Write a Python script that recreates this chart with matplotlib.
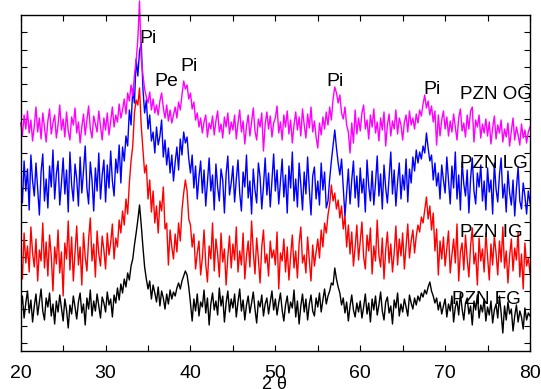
import numpy as np
import matplotlib
matplotlib.use("Agg")
import matplotlib.pyplot as plt

plt.rcParams['font.family'] = ['Liberation Sans', 'DejaVu Sans']

# 2theta grid, 0.2 deg step
two_theta = np.round(np.arange(20.0, 80.01, 0.2), 1)

# intensities (arb. units, offset per sample), 5 deg per row
pzn_og = [
    228, 215, 236, 222, 240, 218, 231, 210, 225, 244, 219, 233, 212, 238, 224, 209, 230, 242, 217, 228, 236, 213, 226, 246, 221,
    232, 214, 239, 220, 211, 234, 226, 243, 218, 229, 208, 224, 237, 216, 231, 245, 222, 213, 235, 227, 219, 240, 225, 211, 233,
    221, 238, 216, 230, 244, 224, 236, 229, 247, 233, 241, 252, 237, 258, 250, 266, 255, 276, 290, 312, 350, 292, 276, 262, 254,
    248, 259, 241, 252, 238, 246, 236, 250, 258, 243, 233, 246, 230, 241, 228, 236, 244, 233, 249, 241, 256, 270, 262, 266, 252,
    258, 242, 249, 231, 238, 224, 233, 218, 229, 236, 214, 228, 222, 235, 216, 230, 240, 219, 227, 213, 234, 224, 238, 217, 229,
    221, 236, 212, 228, 241, 219, 230, 207, 225, 236, 215, 229, 243, 220, 211, 232, 224, 238, 200, 227, 239, 222, 235, 214, 228,
    233, 245, 218, 229, 211, 236, 224, 240, 217, 231, 208, 226, 239, 221, 234, 215, 242, 226, 213, 237, 223, 244, 219, 230, 214,
    203, 228, 216, 234, 222, 239, 226, 244, 231, 252, 264, 258, 248, 256, 238, 232, 244, 226, 219, 198, 228, 208, 241, 217, 233,
    220, 238, 246, 222, 231, 212, 236, 224, 242, 218, 229, 210, 233, 221, 239, 205, 226, 237, 215, 230, 222, 241, 217, 233, 226,
    211, 229, 236, 219, 240, 226, 233, 222, 237, 228, 241, 235, 247, 256, 243, 250, 236, 245, 229, 240, 206, 236, 215, 231, 240,
    222, 234, 215, 230, 219, 237, 224, 211, 233, 242, 220, 228, 214, 236, 222, 240, 244, 209, 231, 224, 236, 213, 227, 218, 232,
    215, 229, 207, 223, 235, 212, 226, 218, 231, 209, 222, 214, 228, 205, 220, 233, 211, 224, 216, 206, 227, 213, 221, 208, 219,
    224]

pzn_lg = [
    175, 148, 190, 160, 182, 141, 196, 170, 155, 188, 162, 136, 179, 197, 150, 172, 143, 185, 164, 201, 152, 177, 190, 146, 168,
    193, 157, 181, 139, 199, 166, 150, 187, 172, 145, 194, 158, 180, 205, 163, 147, 189, 171, 140, 183, 160, 198, 152, 176, 191,
    149, 186, 163, 200, 170, 155, 192, 178, 206, 168, 204, 190, 215, 205, 241, 226, 262, 248, 292, 275, 300, 308, 262, 238, 251,
    222, 236, 210, 219, 198, 224, 206, 215, 231, 194, 211, 186, 203, 178, 196, 170, 189, 204, 181, 212, 196, 219, 208, 214, 192,
    178, 196, 163, 185, 152, 174, 190, 158, 181, 145, 169, 193, 160, 176, 141, 187, 164, 150, 182, 171, 138, 177, 195, 156, 168,
    185, 149, 172, 191, 158, 140, 179, 164, 196, 153, 170, 137, 182, 161, 148, 188, 174, 142, 165, 193, 156, 178, 144, 170, 197,
    160, 181, 147, 169, 192, 154, 176, 138, 185, 163, 199, 150, 172, 144, 188, 166, 141, 179, 157, 194, 162, 136, 175, 184, 152,
    170, 146, 188, 161, 179, 143, 150, 172, 190, 206, 221, 203, 188, 176, 192, 164, 135, 158, 182, 147, 171, 190, 153, 175, 144,
    183, 158, 172, 139, 191, 165, 150, 180, 146, 168, 195, 155, 177, 142, 186, 163, 148, 174, 199, 157, 181, 145, 169, 188, 152,
    176, 161, 192, 149, 182, 168, 194, 180, 201, 188, 199, 192, 205, 198, 218, 203, 190, 196, 171, 188, 165, 178, 152, 186, 171,
    158, 194, 170, 147, 185, 163, 199, 152, 176, 141, 189, 167, 155, 181, 138, 172, 193, 160, 147, 178, 164, 186, 150, 170, 141,
    183, 159, 171, 137, 188, 162, 149, 176, 193, 153, 167, 139, 180, 158, 146, 171, 135, 163, 184, 150, 142, 168, 155, 137, 160,
    148]

pzn_ig = [
    96, 72, 118, 88, 105, 79, 124, 98, 84, 112, 70, 101, 90, 128, 83, 109, 75, 116, 95, 60, 104, 87, 121, 78, 99,
    55, 108, 92, 130, 81, 114, 70, 99, 125, 86, 104, 66, 118, 94, 80, 112, 133, 90, 107, 74, 120, 97, 85, 115, 101,
    82, 118, 96, 108, 127, 92, 113, 104, 131, 118, 140, 126, 152, 137, 168, 190, 205, 238, 251, 246, 263, 225, 201, 178, 186,
    152, 171, 139, 160, 128, 145, 118, 150, 140, 164, 122, 128, 86, 121, 104, 92, 117, 99, 128, 110, 141, 158, 171, 160, 132,
    126, 104, 117, 82, 98, 110, 76, 93, 121, 87, 69, 105, 92, 128, 80, 112, 97, 74, 118, 89, 102, 66, 94, 115, 83,
    107, 91, 124, 79, 100, 86, 118, 72, 95, 110, 84, 130, 99, 77, 113, 92, 68, 104, 121, 88, 97, 75, 110, 93, 101,
    86, 119, 62, 98, 90, 112, 79, 104, 71, 95, 116, 83, 100, 73, 108, 124, 88, 96, 78, 114, 91, 70, 106, 85, 99,
    112, 93, 121, 104, 128, 118, 136, 147, 166, 150, 158, 142, 151, 133, 145, 122, 135, 104, 126, 97, 119, 85, 104, 126, 91,
    110, 129, 94, 82, 116, 100, 123, 77, 105, 90, 131, 96, 84, 113, 72, 101, 119, 88, 107, 79, 98, 125, 86, 112, 95,
    118, 82, 104, 127, 93, 110, 121, 98, 115, 126, 119, 134, 128, 141, 154, 132, 145, 121, 138, 100, 122, 76, 110, 92, 114,
    85, 103, 120, 78, 96, 112, 88, 127, 70, 99, 108, 81, 116, 92, 74, 105, 123, 87, 98, 66, 113, 90, 102, 79, 118,
    94, 71, 107, 86, 115, 98, 76, 110, 89, 124, 83, 100, 68, 95, 112, 80, 103, 91, 119, 74, 97, 62, 108, 85, 93,
    78]

pzn_fg = [
    42, 55, 33, 48, 60, 38, 51, 29, 45, 57, 36, 49, 62, 40, 31, 53, 44, 58, 35, 47, 27, 50, 39, 56, 43,
    30, 52, 41, 23, 46, 37, 55, 44, 32, 49, 58, 38, 47, 26, 53, 42, 61, 35, 50, 40, 57, 45, 33, 54, 48,
    39, 59, 46, 52, 34, 56, 48, 63, 51, 67, 58, 72, 64, 78, 71, 85, 92, 106, 118, 131, 146, 126, 104, 84, 72,
    62, 70, 52, 66, 58, 49, 64, 45, 60, 53, 42, 57, 47, 61, 52, 59, 55, 63, 68, 62, 70, 75, 80, 76, 64,
    48, 30, 52, 40, 57, 35, 49, 44, 61, 38, 53, 26, 47, 58, 41, 50, 36, 63, 45, 55, 29, 48, 60, 39, 52,
    43, 57, 34, 49, 62, 40, 51, 31, 46, 55, 38, 48, 59, 42, 28, 50, 44, 56, 35, 47, 53, 37, 49, 60, 41,
    52, 36, 48, 58, 41, 30, 46, 55, 38, 49, 43, 61, 34, 50, 27, 45, 57, 39, 52, 31, 47, 56, 40, 35, 53,
    44, 58, 39, 51, 62, 47, 55, 60, 68, 66, 83, 72, 64, 58, 46, 53, 38, 49, 30, 45, 56, 41, 34, 48, 39,
    50, 33, 44, 57, 37, 48, 29, 52, 41, 55, 36, 46, 59, 40, 31, 49, 54, 38, 45, 27, 51, 43, 58, 35, 47,
    39, 52, 44, 35, 56, 48, 42, 53, 46, 55, 50, 58, 54, 61, 57, 64, 69, 60, 55, 48, 53, 41, 49, 37, 45,
    52, 34, 47, 40, 55, 29, 44, 50, 36, 58, 42, 31, 48, 53, 37, 45, 26, 50, 41, 56, 33, 46, 39, 52, 30,
    44, 36, 50, 28, 41, 47, 33, 55, 38, 18, 45, 31, 49, 37, 42, 20, 35, 46, 29, 40, 34, 22, 43, 31, 38,
    35]

# phase labels (2theta, y)
peak_labels = ['Pi', 'Pe', 'Pi', 'Pi', 'Pi']
peak_x = [34.0, 35.75, 38.8, 56.05, 67.45]
peak_y = [308, 265, 280, 265, 257]

sample_names = ['PZN OG', 'PZN LG', 'PZN IG', 'PZN FG']
name_x = [71.75, 71.75, 71.75, 70.8]
name_y = [252, 183, 114, 47]


fig = plt.figure(figsize=(5.41, 3.89), dpi=100)
ax = fig.add_axes([20.7/541, 1-350.7/389, 509.3/541, 335.7/389])

ax.plot(two_theta, pzn_fg, color='black', lw=1.0)
ax.plot(two_theta, pzn_ig, color='#ff0000', lw=1.0)
ax.plot(two_theta, pzn_lg, color='#0000ff', lw=1.0)
ax.plot(two_theta, pzn_og, color='#ff00ff', lw=1.0, clip_on=False)

for lab, x, y in zip(peak_labels, peak_x, peak_y):
    ax.text(x, y, lab, fontsize=14, ha='left', va='baseline')
for lab, x, y in zip(sample_names, name_x, name_y):
    ax.text(x, y, lab, fontsize=13.5, ha='left', va='baseline')

ax.set_xlim(20, 80)
ax.set_ylim(0.3, 336)
ax.set_xticks(np.arange(20, 81, 10))
ax.set_xticks(np.arange(25, 80, 10), minor=True)
ax.set_yticks(np.arange(7.7, 336, 17.28))
ax.tick_params(which='both', direction='in', top=True, right=True,
               labelleft=False, length=4, width=0.8)
ax.tick_params(axis='x', which='major', labelsize=14, pad=10)
for s in ax.spines.values():
    s.set_linewidth(1.0)

# x label sits low, partly under the "50" like the original
fig.text(274/541, 1-376/389, '2 θ', fontsize=13, ha='center', va='top')

fig.savefig('out.png', dpi=100)
